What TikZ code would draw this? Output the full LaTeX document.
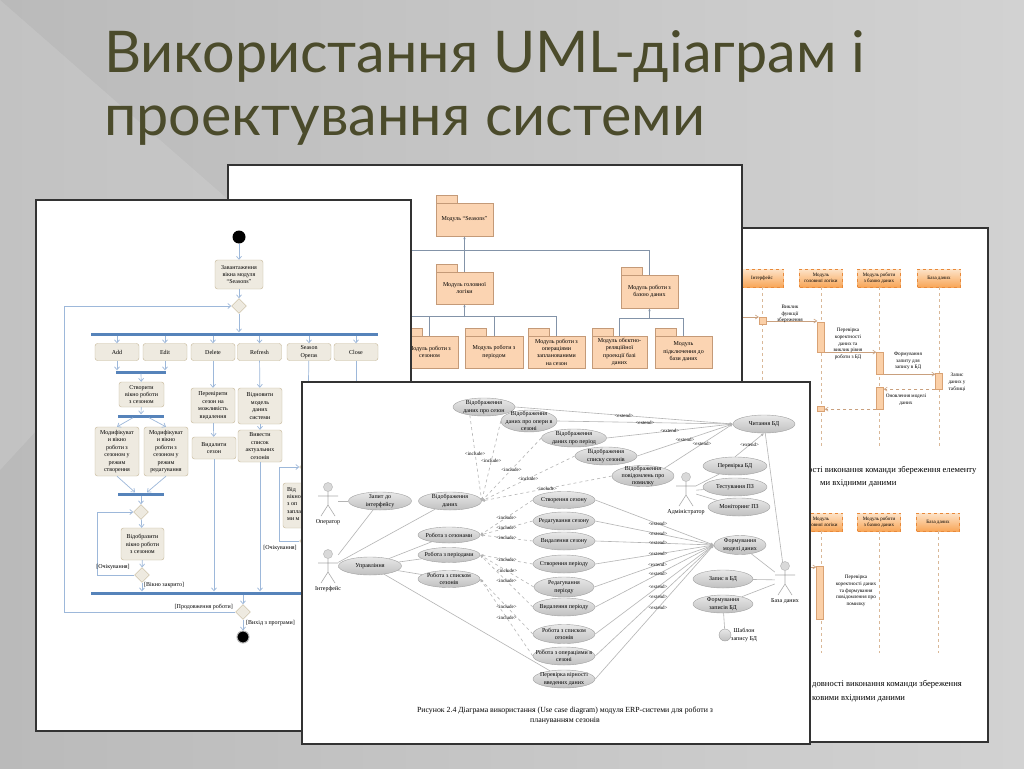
\documentclass[tikz,border=0pt]{standalone}
\usepackage{fontspec}
\setmainfont{Liberation Serif}
\newfontfamily\titlefont{Lato}
\usetikzlibrary{arrows.meta,shapes.geometric}

\definecolor{bgleft}{HTML}{BABABA}
\definecolor{bgright}{HTML}{D2D2D2}
\definecolor{titleolive}{HTML}{4B4B2B}
\definecolor{actfill}{HTML}{EEEAE0}
\definecolor{actline}{HTML}{C4B696}
\definecolor{barblue}{HTML}{5683BA}
\definecolor{flowblue}{HTML}{9DB8DA}
\definecolor{pkgfill}{HTML}{FBD4B2}
\definecolor{pkgline}{HTML}{C49A78}
\definecolor{pkglinkcol}{HTML}{8393A8}
\definecolor{headtop}{HTML}{FDE3C8}
\definecolor{headbot}{HTML}{F8A658}
\definecolor{headline}{HTML}{E8893A}
\definecolor{lifecol}{HTML}{D9B898}
\definecolor{activfill}{HTML}{FBD0A8}
\definecolor{activline}{HTML}{D9A274}
\definecolor{msgcol}{HTML}{C9A07E}
\definecolor{uctop}{HTML}{E8E8E8}
\definecolor{ucbot}{HTML}{C0C0C0}
\definecolor{ucline}{HTML}{A0A0A0}
\definecolor{assoccol}{HTML}{B4B4B4}

\newcommand\boxfont{\fontsize{6}{7.4}\selectfont}
\newcommand\headfont{\fontsize{5}{5.8}\selectfont}
\newcommand\seqfont{\fontsize{5.2}{6.8}\selectfont}
\newcommand\capfont{\fontsize{7.8}{9.5}\selectfont}
\newcommand\seqcapfont{\fontsize{8.6}{10}\selectfont}

\tikzset{
  panel/.style={draw=black!80, line width=1.2pt, fill=white},
  titletext/.style={font=\titlefont\fontsize{57.5}{60}\selectfont, text=titleolive, inner sep=0pt, anchor=base west},
  % activity diagram
  act/.style={draw=actline, fill=actfill, rounded corners=2.5pt, align=center, font=\boxfont, inner sep=1pt, minimum width=44pt, minimum height=17pt},
  dec/.style={diamond, draw=actline, fill=actfill, minimum size=15pt, inner sep=0pt},
  syncbar/.style={fill=barblue, inner sep=0pt, minimum height=3pt},
  initial/.style={circle, fill=black, minimum size=13pt, inner sep=0pt},
  final/.style={circle, fill=black, draw=gray!60, line width=1pt, minimum size=12pt, inner sep=0pt},
  flow/.style={draw=flowblue, line width=0.7pt, -{Straight Barb[length=3pt,width=5pt]}},
  guard/.style={font=\boxfont, inner sep=1pt},
  % package diagram
  pkg/.style={draw=pkgline, fill=pkgfill, align=center, font=\boxfont, inner sep=1pt, minimum width=57pt, minimum height=32pt},
  pkgtab/.style={draw=pkgline, fill=pkgfill},
  pkglink/.style={draw=pkglinkcol, line width=0.6pt},
  pkgarrow/.style={pkglink, -{Latex[length=3pt,width=2.5pt]}},
  % sequence diagrams
  head/.style={draw=headline, dashed, top color=headtop, bottom color=headbot, align=center, font=\headfont, minimum width=43pt, minimum height=18pt, inner sep=1pt},
  lifeline/.style={draw=lifecol, dashed, line width=0.7pt},
  activ/.style={draw=activline, fill=activfill, minimum width=7pt, inner sep=0pt},
  msg/.style={draw=msgcol, line width=0.6pt, -{Straight Barb[length=3pt,width=4pt]}},
  reply/.style={msg, dashed},
  seqtxt/.style={align=center, font=\seqfont, inner sep=0pt},
  % use case diagram
  uc/.style={ellipse, draw=ucline, top color=uctop, bottom color=ucbot, align=center, font=\boxfont, inner xsep=-14pt, inner ysep=-3pt, minimum width=62pt, minimum height=18pt},
  uct/.style={align=center, font=\boxfont, inner sep=0pt},
  actor/.style={minimum width=20pt, minimum height=34pt, inner sep=0pt},
  actlbl/.style={font=\boxfont, inner sep=1pt, label distance=0pt},
  actorline/.style={draw=gray!65, line width=0.6pt},
  actorhead/.style={draw=gray!55, fill=gray!30, line width=0.5pt},
  stick/.pic={
    \draw[actorline] (0,-9.5) -- (0,4) (-10,-5) -- (10,-5) (0,4) -- (-7,15) (0,4) -- (7,15);
    \draw[actorhead] (0,-14) circle (4.5);
  },
  assoc/.style={draw=assoccol, line width=0.6pt},
  incl/.style={draw=assoccol, dashed, line width=0.6pt, -{Latex[length=3pt,width=3pt]}},
  ext/.style={draw=assoccol, line width=0.6pt, -{Latex[length=3pt,width=3pt]}},
  stereo/.style={font=\headfont, inner sep=0.3pt},
}

\begin{document}
\begin{tikzpicture}[x=1pt, y=-1pt]
\useasboundingbox (0,0) rectangle (1024,768);
\shade[left color=bgleft, right color=bgright] (0,0) rectangle (1024,768);
\fill[white, opacity=0.12] (0,0) -- (240,210) -- (0,470) -- cycle;

% title
\node[titletext] (title1) at (104,72) {Використання UML-діаграм і};
\node[titletext] (title2) at (104,135) {проектування системи};

% sequence diagrams
\draw[panel] (740,228) rectangle (988,742);
\coordinate (lifeEnd) at (0,448);
\coordinate (lifeEnd2) at (0,653);
\node[head] (h1) at (762,278) {Інтерфейс};
\node[head] (h2) at (821,278) {Модуль\\головної логіки};
\node[head] (h3) at (879,278) {Модуль роботи\\з базою даних};
\node[head] (h4) at (939,278) {База даних};
\foreach \nm in {h1,h2,h3,h4} \draw[lifeline] (\nm.south) -- (\nm.south |- lifeEnd);
\node[activ, minimum height=7pt] (a1) at (762.5,321) {};
\node[activ, minimum height=30pt] (a2) at (821,337) {};
\node[activ, minimum height=22pt] (a3) at (880,363) {};
\node[activ, minimum height=16pt] (a4) at (939,381) {};
\node[activ, minimum height=22pt] (a5) at (880,398) {};
\node[activ, minimum height=5pt] (a6) at (821,409) {};
\coordinate (callIn) at (741,317);
\draw[msg] (callIn) -- (a1.west |- callIn);
\draw[msg] (a1.east) -- (a1.east -| a2.west);
\draw[msg] (a2.south east) -- (a2.south east -| a3.west);
\draw[msg] (a3.south east) -- (a3.south east -| a4.west);
\draw[reply] (a4.south west) -- (a4.south west -| a5.east);
\draw[reply] (a5.south west) -- (a5.south west -| a6.east);
\node[seqtxt] (m1) at (790,314) {Виклик\\функції\\збереження};
\node[seqtxt] (m2) at (848,344) {Перевірка\\коректності\\даних та\\виклик рівня\\роботи з БД};
\node[seqtxt] (m3) at (908,361) {Формування\\запиту для\\запису в БД};
\node[seqtxt] (m4) at (957,382) {Запис\\даних у\\таблиці};
\node[seqtxt] (m5) at (906,400) {Оновлення моделі\\даних};
\node[font=\seqcapfont, anchor=base west, inner sep=0pt] (capB1) at (808,472) {ості виконання команди збереження елементу};
\node[font=\seqcapfont, anchor=base west, inner sep=0pt] (capB2) at (820,485) {ми вхідними даними};
\node[head] (g2) at (821,522) {Модуль\\головної логіки};
\node[head] (g3) at (879,522) {Модуль роботи\\з базою даних};
\node[head] (g4) at (938,522) {База даних};
\foreach \nm in {g2,g3,g4} \draw[lifeline] (\nm.south) -- (\nm.south |- lifeEnd2);
\node[activ, minimum height=53pt] (b1) at (820,592.5) {};
\coordinate (checkIn) at (790,567);
\draw[msg] (checkIn) -- (b1.west |- checkIn);
\node[seqtxt] (m6) at (856,591) {Перевірка\\коректності даних\\та формування\\повідомлення про\\помилку};
\node[font=\seqcapfont, anchor=base west, inner sep=0pt] (capB3) at (812,686) {довності виконання команди збереження};
\node[font=\seqcapfont, anchor=base west, inner sep=0pt] (capB4) at (812,700) {ковими вхідними даними};

% package diagram
\draw[panel] (228,165) rectangle (742,383);
\node[pkg, minimum height=33pt] (seas) at (464.5,219.5) {Модуль ``Seasons''};
\node[pkg] (logic) at (464.5,288) {Модуль головної\\логіки};
\node[pkg, minimum height=33pt] (db) at (649.5,291.5) {Модуль роботи з\\базою даних};
\node[pkg] (sez) at (429.5,352) {Модуль роботи з\\сезоном};
\node[pkg, minimum width=58pt] (per) at (494,352) {Модуль роботи з\\періодом};
\node[pkg] (opr) at (556.5,352) {Модуль роботи з\\операціями\\запланованими\\на сезон};
\node[pkg, minimum width=55pt] (orm) at (619.5,352) {Модуль обєктно-\\реляційної\\проекції базі\\даних};
\node[pkg] (con) at (683.5,352) {Модуль\\підключення до\\бази даних};
\foreach \nm in {seas,logic,db,sez,per,opr,orm,con} \draw[pkgtab] (\nm.north west) rectangle ++(21,-8);
\coordinate (busTop) at (405,250);
\coordinate (busMid) at (405,316);
\coordinate (busDb) at (0,318);
\draw[pkglink] (db.north) |- (busTop);
\draw[pkgarrow] (logic.north) -- (seas.south);
\draw[pkglink] (opr.north) |- (busMid);
\draw[pkglink] (sez.north) -- (sez.north |- busMid);
\draw[pkglink] (per.north) -- (per.north |- busMid);
\draw[pkgarrow] (logic.south |- busMid) -- (logic.south);
\draw[pkglink] (orm.north) |- (con.north |- busDb) -- (con.north);
\draw[pkgarrow] (db.south |- busDb) -- (db.south);

% activity diagram
\draw[panel] (36,200) rectangle (411,731);
\node[initial] (start) at (239,237) {};
\node[act, minimum width=48pt, minimum height=29pt] (load) at (239,274.5) {Завантаження\\вікна модуля\\``Seasons''};
\node[dec] (d0) at (239,306) {};
\node[syncbar, minimum width=287pt] (fork) at (234.5,334) {};
\node[act] (add) at (117,352) {Add};
\node[act] (edit) at (165,352) {Edit};
\node[act] (del) at (213,352) {Delete};
\node[act] (refr) at (259.5,352) {Refresh};
\node[act] (sops) at (309,352) {Season\\Operas};
\node[act] (close) at (356,352) {Close};
\draw[flow] (start) -- (load);
\draw[flow] (load) -- (d0);
\draw[flow] (d0) -- (d0 |- fork.north);
\foreach \nm in {add,edit,del,refr,sops,close} \draw[flow] (\nm |- fork.south) -- (\nm.north);
\node[syncbar, minimum width=50pt] (j1) at (141,372) {};
\draw[flow] (add) -- (add |- j1.north);
\draw[flow] (edit) -- (edit |- j1.north);
\node[act, minimum width=45pt, minimum height=25pt] (mkwin) at (141.5,394.5) {Створити\\вікно роботи\\з сезоном};
\draw[flow] (j1) -- (mkwin);
\node[syncbar, minimum width=46pt] (j2) at (141,416) {};
\draw[flow] (mkwin) -- (j2);
\node[act, minimum height=49pt] (modc) at (117,451.5) {Модифікуват\\и вікно\\роботи з\\сезоном у\\режим\\створення};
\node[act, minimum height=49pt] (mode) at (166,451.5) {Модифікуват\\и вікно\\роботи з\\сезоном у\\режим\\редагування};
\draw[flow] ([xshift=-8pt]j2.south) -- (modc.north);
\draw[flow] ([xshift=8pt]j2.south) -- (mode.north);
\node[syncbar, minimum width=46pt] (j3) at (141,494) {};
\draw[flow] (modc.south) -- ([xshift=-6pt]j3.north);
\draw[flow] (mode.south) -- ([xshift=6pt]j3.north);
\node[dec] (dA) at (141,512) {};
\draw[flow] (j3) -- (dA);
\node[act, minimum width=43pt, minimum height=32pt] (showwin) at (142.5,544) {Відобразити\\вікно роботи\\з сезоном};
\draw[flow] (dA) -- (showwin);
\node[dec] (dB) at (142,575) {};
\draw[flow] (showwin) -- (dB);
\coordinate (loopA) at (97,512);
\draw[flow] (dB.west) -| (loopA) -- (dA.west);
\node[guard] (gWait1) at (113,567) {[Очікування]};
\node[syncbar, minimum width=310pt] (jn) at (246,593) {};
\draw[flow] (dB) -- (dB |- jn.north);
\node[guard, anchor=west] (gClosed) at (143,585) {[Вікно закрито]};
\node[act, minimum height=35pt] (chkdel) at (213,405.5) {Перевірити\\сезон на\\можливість\\видалення};
\node[act, minimum height=22pt] (rmsez) at (214,448) {Видалити\\сезон};
\draw[flow] (del) -- (chkdel);
\draw[flow] (chkdel) -- (rmsez);
\draw[flow] (rmsez) -- (rmsez |- jn.north);
\node[act, minimum height=36pt] (rstmod) at (260,406) {Відновити\\модель\\даних\\системи};
\node[act, minimum height=32pt] (lstsez) at (260,446) {Вивести\\список\\актуальних\\сезонів};
\draw[flow] (refr) -- (rstmod);
\draw[flow] (rstmod) -- (lstsez);
\draw[flow] (lstsez) -- (lstsez |- jn.north);
\node[dec] (dO1) at (307,467) {};
\node[act, minimum height=45pt] (opwin) at (305,505.5) {};
\node[font=\boxfont, align=left, anchor=north west, inner sep=0pt] (opwintext) at (287,487) {Від\\вікно\\з оп\\запла\\ми м};
\node[dec] (dO2) at (307,541) {};
\draw[flow] (sops) -- (dO1);
\draw[flow] (dO1) -- (opwin);
\draw[flow] (opwin) -- (dO2);
\coordinate (loopO) at (279,467);
\draw[flow] (dO2.west) -| (loopO) -- (dO1.west);
\node[guard] (gWait2) at (280,548) {[Очікування]};
\draw[flow] (dO2) -- (dO2 |- jn.north);
\draw[flow] (close) -- (close |- jn.north);
\node[dec] (dEnd) at (243,612) {};
\draw[flow] (jn.south -| dEnd) -- (dEnd);
\coordinate (loopMain) at (64,306);
\draw[flow] (dEnd.west) -| (loopMain) -- (d0.west);
\node[guard, anchor=south east] (gGo) at (234,611) {[Продовження роботи]};
\node[final] (fin) at (243,637) {};
\draw[flow] (dEnd) -- (fin);
\node[guard, anchor=west] (gExit) at (245,623) {[Вихід з програми]};

% use case diagram
\draw[panel] (302,382) rectangle (810,744);
\node[actor, label={[actlbl]below:Оператор}] (oper) at (328,501) {};
\node[actor, label={[actlbl]below:Інтерфейс}] (iface) at (328,568) {};
\node[actor, label={[actlbl]below:Адміністратор}] (admin) at (686,491) {};
\node[actor, label={[actlbl]below:База даних}] (bdact) at (785,580) {};
\foreach \nm in {oper,iface,admin,bdact} \pic at (\nm) {stick};
\node[uc] (disez) at (484,407) {Відображення\\даних про сезон};
\node[uc, minimum width=56pt, minimum height=22pt] (dioper) at (529,421) {Відображення\\даних про опери в\\сезоні};
\node[uc, minimum width=65pt] (diper) at (574,438) {Відображення\\даних про період};
\node[uc] (dilist) at (606,456) {Відображення\\списку сезонів};
\node[uc, minimum height=21pt] (dierr) at (643,476) {Відображення\\повідомлень про\\помилку};
\node[uc, minimum width=63pt] (zapyt) at (380,501) {Запит до\\інтерфейсу};
\node[uc, minimum width=63pt] (showdata) at (450,501) {Відображення\\даних};
\node[uc, minimum width=63pt] (upr) at (370,566) {Управління};
\node[uc, minimum height=16pt] (rsez) at (449,535) {Робота з сезонами};
\node[uc, minimum height=15pt] (rper) at (449,555) {Робота з періодами};
\node[uc, minimum height=17pt] (rlist) at (449,579) {Робота з списком\\сезонів};
\node[uc, minimum height=17pt] (csez) at (564,500) {Створення сезону};
\node[uc] (esez) at (564,521) {Редагування сезону};
\node[uc] (vsez) at (564,541) {Видалення сезону};
\node[uc] (cper) at (564,564) {Створення періоду};
\node[uc, minimum width=60pt, minimum height=20pt] (eper) at (564,587) {Редагування\\періоду};
\node[uc] (vper) at (564,607) {Видалення періоду};
\node[uc, minimum height=19pt] (slist) at (564,634) {Робота з списком\\сезонів};
\node[uc] (sopr) at (564,656) {Робота з операціями в\\сезоні};
\node[uc] (chk) at (564,679) {Перевірка вірності\\введених даних};
\node[uc] (chit) at (764,424) {Читання БД};
\node[uc, minimum width=64pt] (perbd) at (735,466) {Перевірка БД};
\node[uc, minimum width=64pt] (testpz) at (735,487) {Тестування ПЗ};
\node[uc] (monpz) at (739,507) {Моніторинг ПЗ};
\node[uc, minimum width=52pt, minimum height=19pt] (fmod) at (740,545) {Формування\\моделі даних};
\node[uc, minimum width=60pt] (zapbd) at (723,579) {Запис в БД};
\node[uc, minimum width=60pt] (formz) at (723,604) {Формування\\записів БД};
\node[circle, draw=ucline, top color=uctop, bottom color=ucbot, minimum size=12pt, inner sep=0pt] (tmpl) at (725,635) {};
\node[uct, anchor=west] (tmplname) at (731,635) {Шаблон\\запису БД};
\draw[assoc] (oper) -- (zapyt);
\draw[assoc] (iface) -- (zapyt);
\draw[assoc] (iface) -- (showdata);
\draw[assoc] (iface) -- (upr);
\foreach \nm in {rsez,rper,rlist,chk} \draw[assoc] (upr) -- (\nm);
\draw[incl] (disez.-150) -- node[stereo, pos=0.45]{<include>} (showdata.east);
\foreach \nm in {dioper,diper,dilist,dierr} \draw[incl] (\nm.west) -- node[stereo]{<include>} (showdata.east);
\foreach \nm in {csez,esez,vsez} \draw[incl] (\nm.west) -- node[stereo]{<include>} (rsez.east);
\foreach \nm in {cper,eper,vper} \draw[incl] (\nm.west) -- node[stereo]{<include>} (rper.east);
\foreach \nm in {slist,sopr} \draw[incl] (\nm.west) -- node[stereo]{<include>} (rlist.east);
\foreach \nm in {disez,dioper,diper,dilist} \draw[ext] (\nm.east) -- node[stereo]{<extend>} (chit.west);
\draw[ext] (dierr.20) -- node[stereo, pos=0.55]{<extend>} (chit.west);
\draw[ext] (perbd.north) -- node[stereo]{<extend>} (chit.south);
\foreach \nm in {csez,esez,vsez,cper,eper,vper,slist,sopr,chk} \draw[ext] (\nm.east) -- node[stereo, pos=0.53]{<extend>} (fmod.west);
\foreach \nm in {perbd,testpz,monpz} \draw[assoc] (admin) -- (\nm);
\foreach \nm in {fmod,zapbd,formz,chit} \draw[assoc] (bdact) -- (\nm);
\draw[assoc] (tmpl) -- (formz);
\node[font=\capfont, inner sep=0pt] (capC1) at (565,711) {Рисунок 2.4 Діаграма використання (Use case diagram) модуля ERP-системи для роботи з};
\node[font=\capfont, inner sep=0pt] (capC2) at (565,721) {плануванням сезонів};
\end{tikzpicture}
\end{document}
